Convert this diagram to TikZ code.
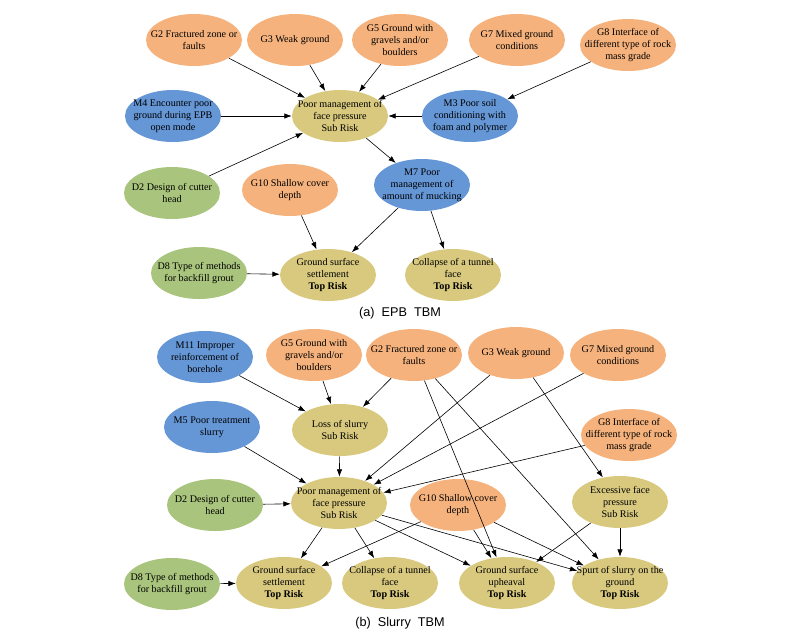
\documentclass[tikz,border=0pt]{standalone}
\usepackage{fontspec}
\setmainfont{Liberation Serif}
\newfontfamily\capfont{Liberation Sans}
\usetikzlibrary{shapes.geometric,arrows.meta}
\definecolor{cO}{HTML}{F5B27C}
\definecolor{cB}{HTML}{6596D6}
\definecolor{cG}{HTML}{A9C47C}
\definecolor{cY}{HTML}{D8C97E}
\begin{document}
\begin{tikzpicture}[x=0.75pt,y=-0.75pt,
  nd/.style={ellipse,minimum width=72pt,minimum height=39pt,inner xsep=-10pt,inner ysep=-9pt,align=center,
    font=\fontsize{7.6}{9}\selectfont},
  og/.style={nd,fill=cO},bl/.style={nd,fill=cB},gr/.style={nd,fill=cG},yl/.style={nd,fill=cY},
  ar/.style={-{Latex[length=5.5pt,width=4pt]},black,line width=0.45pt}]
\useasboundingbox (0,0) rectangle (800,633);
% ---- (a)
\node[og] (aG2) at (194,40) {G2 Fractured zone or\\faults};
\node[og] (aG3) at (295,40) {G3 Weak ground};
\node[og] (aG5) at (400,40) {G5 Ground with\\gravels and/or\\boulders};
\node[og] (aG7) at (517,40) {G7 Mixed ground\\conditions};
\node[og] (aG8) at (628,45) {G8 Interface of\\different type of rock\\mass grade};
\node[yl] (aP) at (340,116) {Poor management of\\face pressure\\Sub Risk};
\node[bl] (aM4) at (173,116) {M4 Encounter poor\\ground during EPB\\open mode};
\node[bl] (aM3) at (470,116) {M3 Poor soil\\conditioning with\\foam and polymer};
\node[gr] (aD2) at (172,193) {D2 Design of cutter\\head};
\node[og] (aG10) at (290,190) {G10 Shallow cover\\depth};
\node[bl] (aM7) at (422,185) {M7 Poor\\management of\\amount of mucking};
\node[gr] (aD8) at (199,273) {D8 Type of methods\\for backfill grout};
\node[yl] (aS) at (328,275) {Ground surface\\settlement\\\textbf{Top Risk}};
\node[yl] (aC) at (453,275) {Collapse of a tunnel\\face\\\textbf{Top Risk}};
\node[font=\capfont\fontsize{9.5}{11}\selectfont] (capa) at (400,313) {(a)\ \ EPB\ \ TBM};
\foreach \s in {aG2,aG3,aG5,aG7,aM4,aM3,aD2} \draw[ar] (\s) -- (aP);
\draw[ar] (aG8) -- (aM3);
\draw[ar] (aP) -- (aM7);
\draw[ar] (aM7) -- (aS);
\draw[ar] (aM7) -- (aC);
\draw[ar] (aG10) -- (aS);
\draw[ar] (aD8) -- (aS);
% ---- (b)
\node[bl] (bM11) at (205,357) {M11 Improper\\reinforcement of\\borehole};
\node[og] (bG5) at (314,355) {G5 Ground with\\gravels and/or\\boulders};
\node[og] (bG2) at (414,355) {G2 Fractured zone or\\faults};
\node[og] (bG3) at (516,353) {G3 Weak ground};
\node[og] (bG7) at (618,355) {G7 Mixed ground\\conditions};
\node[yl] (bL) at (340,430) {Loss of slurry\\Sub Risk};
\node[bl] (bM5) at (212,427) {M5 Poor treatment\\slurry};
\node[og] (bG8) at (629,435) {G8 Interface of\\different type of rock\\mass grade};
\node[yl] (bP) at (339,503) {Poor management of\\face pressure\\Sub Risk};
\node[gr] (bD2) at (215,505) {D2 Design of cutter\\head};
\node[og] (bG10) at (458,505) {G10 Shallow cover\\depth};
\node[yl] (bE) at (620,502) {Excessive face\\pressure\\Sub Risk};
\node[gr] (bD8) at (172,584) {D8 Type of methods\\for backfill grout};
\node[yl] (bS) at (284,583) {Ground surface\\settlement\\\textbf{Top Risk}};
\node[yl] (bC) at (390,583) {Collapse of a tunnel\\face\\\textbf{Top Risk}};
\node[yl] (bU) at (507,583) {Ground surface\\upheaval\\\textbf{Top Risk}};
\node[yl] (bSp) at (620,583) {Spurt of slurry on the\\ground\\\textbf{Top Risk}};
\node[font=\capfont\fontsize{9.5}{11}\selectfont] (capb) at (400,623) {(b)\ \ Slurry\ \ TBM};
\foreach \s in {bM11,bG5,bG2} \draw[ar] (\s) -- (bL);
\foreach \s in {bM5,bL,bG3,bG7,bG8,bD2} \draw[ar] (\s) -- (bP);
\draw[ar] (bG2) -- (bU);
\draw[ar] (bG2) -- (bSp);
\draw[ar] (bG3) -- (bE);
\foreach \t in {bS,bC,bU,bSp} \draw[ar] (bP) -- (\t);
\foreach \t in {bS,bU,bSp} \draw[ar] (bG10) -- (\t);
\draw[ar] (bE) -- (bU);
\draw[ar] (bE) -- (bSp);
\draw[ar] (bD8) -- (bS);
\end{tikzpicture}
\end{document}
